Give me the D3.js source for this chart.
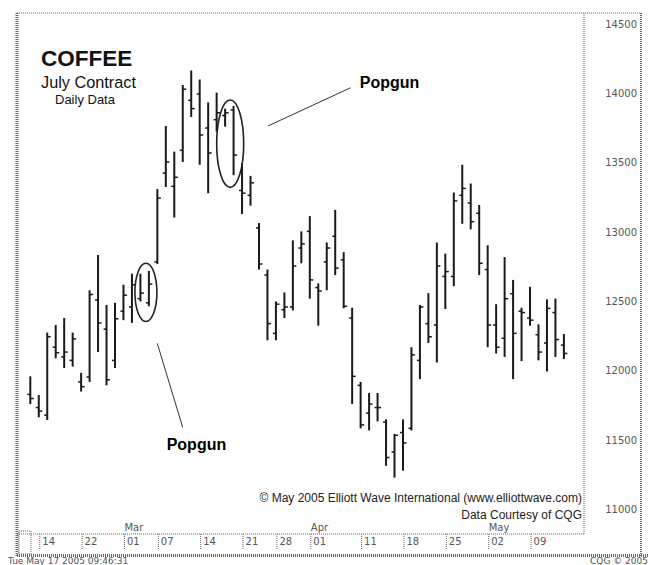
<!DOCTYPE html>
<html lang="en">
<head>
    <meta charset="UTF-8">
    <title>Coffee July Contract</title>
    <script src="https://d3js.org/d3.v7.min.js"></script>
    <style>
        body { margin: 0; background: #fff; }
        .axis text { font-family: "DejaVu Sans", sans-serif; font-size: 10px; fill: #555; }
        .frame { fill: none; stroke: #666; stroke-dasharray: 1,1; }
    </style>
</head>
<body>
<div id="chart"></div>
<script>

    // Trading days (categories)
    var dates = [
        "2005-02-11", "2005-02-14", "2005-02-15", "2005-02-16", "2005-02-17", "2005-02-18",
        "2005-02-22", "2005-02-23", "2005-02-24", "2005-02-25", "2005-02-28",
        "2005-03-01", "2005-03-02", "2005-03-03", "2005-03-04",
        "2005-03-07", "2005-03-08", "2005-03-09", "2005-03-10", "2005-03-11",
        "2005-03-14", "2005-03-15", "2005-03-16", "2005-03-17", "2005-03-18",
        "2005-03-21", "2005-03-22", "2005-03-23", "2005-03-24",
        "2005-03-28", "2005-03-29", "2005-03-30", "2005-03-31",
        "2005-04-01", "2005-04-04", "2005-04-05", "2005-04-06", "2005-04-07", "2005-04-08",
        "2005-04-11", "2005-04-12", "2005-04-13", "2005-04-14", "2005-04-15",
        "2005-04-18", "2005-04-19", "2005-04-20", "2005-04-21", "2005-04-22",
        "2005-04-25", "2005-04-26", "2005-04-27", "2005-04-28", "2005-04-29",
        "2005-05-02", "2005-05-03", "2005-05-04", "2005-05-05", "2005-05-06",
        "2005-05-09", "2005-05-10", "2005-05-11", "2005-05-12", "2005-05-13"
    ];

    // OHLC series
    var opens = [
        11830, 11735, 11680, 12170, 12100, 12075, 11920, 11955, 12510, 12300, 12075,
        12430, 12460, 12520, 12490, 12785, 13425, 13330, 13590, 13950,
        13995, 13750, 13810, 13840, 13880, 13300, 13265, 13030, 12690,
        12270, 12440, 12460, 12885, 13005, 12600, 12785, 12970, 12800, 12380,
        11895, 11695, 11735, 11630, 11415, 11555, 11585, 12075, 12340, 12330,
        12680, 12680, 13265, 13210, 13135, 12730, 12330, 12235, 12555, 12430,
        12380, 12260, 12200, 12420, 12185
    ];
    var highs = [
        11960, 11825, 12275, 12330, 12380, 12275, 11985, 12580, 12835, 12475, 12490,
        12620, 12700, 12700, 12720, 13310, 13765, 13580, 14060, 14165,
        14100, 13935, 14005, 13890, 13910, 13495, 13405, 13065, 12730,
        12500, 12565, 12940, 13005, 13115, 12630, 12925, 13160, 12855, 12455,
        11920, 11840, 11840, 11650, 11545, 11650, 12170, 12475, 12560, 12925,
        12845, 13285, 13485, 13350, 13195, 12905, 12480, 12820, 12655, 12455,
        12605, 12335, 12515, 12520, 12265
    ];
    var lows = [
        11760, 11665, 11645, 12090, 12020, 12030, 11850, 11920, 12135, 11895, 12020,
        12365, 12345, 12500, 12465, 12770, 13325, 13105, 13505, 13830,
        13485, 13280, 13725, 13760, 13410, 13130, 13190, 12730, 12220,
        12220, 12380, 12435, 12775, 12520, 12325, 12580, 12690, 12450, 11760,
        11585, 11570, 11635, 11315, 11230, 11280, 11570, 11940, 12200, 12060,
        12445, 12610, 13060, 13020, 12690, 12170, 12125, 12100, 11940, 12070,
        12325, 12075, 11995, 12100, 12085
    ];
    var closes = [
        11800, 11710, 12245, 12130, 12135, 12230, 11885, 12550, 12345, 11935, 12375,
        12545, 12620, 12560, 12625, 13245, 13505, 13395, 14030, 13890,
        13700, 13570, 13860, 13860, 13555, 13280, 13355, 12770, 12340,
        12480, 12460, 12755, 12915, 12655, 12575, 12885, 12740, 12465, 11960,
        11610, 11760, 11735, 11375, 11535, 11480, 12115, 12460, 12245, 12755,
        12715, 13225, 13315, 13075, 12775, 12330, 12170, 12520, 12270, 12420,
        12365, 12135, 12450, 12225, 12125
    ];

    // Axis labels
    var priceTicks = [11000, 11500, 12000, 12500, 13000, 13500, 14000, 14500];
    var tickDates = ["2005-02-14", "2005-02-22", "2005-03-01", "2005-03-07", "2005-03-14", "2005-03-21",
        "2005-03-28", "2005-04-01", "2005-04-11", "2005-04-18", "2005-04-25", "2005-05-02", "2005-05-09"];
    var tickLabels = ["14", "22", "01", "07", "14", "21", "28", "01", "11", "18", "25", "02", "09"];
    var monthDates = ["2005-03-01", "2005-04-01", "2005-05-02"];
    var monthLabels = ["Mar", "Apr", "May"];

    // Dimensions
    var width = 652;
    var height = 565;
    var plotLeft = 17, plotRight = 584, plotTop = 13, plotBottom = 534;

    var svg = d3.select("#chart")
        .append("svg")
        .attr("width", width)
        .attr("height", height);

    // Scales
    var x = d3.scaleLinear().domain([0, dates.length - 1]).range([30.3, 563.9]);
    var y = d3.scaleLinear().domain([11000, 14500]).range([509.5, 24]);
    var idx = function (d) { return dates.indexOf(d); };

    // Frame
    svg.append("line").attr("class", "frame")
        .attr("x1", plotLeft).attr("x2", 640).attr("y1", plotTop).attr("y2", plotTop);
    svg.append("line").attr("class", "frame")
        .attr("x1", plotRight).attr("x2", plotRight).attr("y1", plotTop).attr("y2", plotBottom);
    svg.append("line").attr("class", "frame")
        .attr("x1", plotLeft).attr("x2", plotRight).attr("y1", plotBottom).attr("y2", plotBottom);
    svg.append("line").attr("class", "frame").style("stroke-width", 3)
        .attr("x1", plotLeft).attr("x2", plotLeft).attr("y1", plotTop).attr("y2", 557);
    svg.append("line").attr("class", "frame").style("stroke-width", 2)
        .attr("x1", 641).attr("x2", 641).attr("y1", plotTop).attr("y2", 556);
    svg.append("line").attr("class", "frame").style("stroke-width", 3)
        .attr("x1", plotLeft).attr("x2", 648).attr("y1", 555.5).attr("y2", 555.5);
    svg.append("rect").attr("class", "frame")
        .attr("x", 19).attr("y", 531).attr("width", 12).attr("height", 23);

    // Right price axis
    var yAxis = svg.append("g")
        .attr("class", "axis")
        .attr("transform", "translate(" + plotRight + ",0)")
        .call(d3.axisRight(y).tickValues(priceTicks).tickSize(0).tickFormat(d3.format("d")));
    yAxis.select(".domain").remove();
    yAxis.selectAll("text").attr("x", 53).attr("text-anchor", "end");

    // Bottom date axis
    var xAxis = svg.append("g")
        .attr("class", "axis")
        .attr("transform", "translate(0," + plotBottom + ")")
        .call(d3.axisBottom(x)
            .tickValues(tickDates.map(idx))
            .tickSize(15)
            .tickFormat(function (d, i) { return tickLabels[i]; }));
    xAxis.select(".domain").remove();
    xAxis.selectAll(".tick line").attr("stroke", "#666").attr("stroke-dasharray", "1,1").attr("x1", 0.5).attr("x2", 0.5);
    xAxis.selectAll(".tick text").attr("x", 3).attr("y", 4).attr("text-anchor", "start");

    svg.append("g")
        .attr("class", "axis")
        .selectAll("text")
        .data(monthDates)
        .enter()
        .append("text")
        .attr("x", function (d) { return x(idx(d)) + 1; })
        .attr("y", 531)
        .text(function (d, i) { return monthLabels[i]; });

    // OHLC bars
    var bars = svg.append("g")
        .selectAll("g")
        .data(dates)
        .enter()
        .append("g")
        .attr("stroke", "#1a1a1a");

    bars.append("line")
        .attr("stroke-width", 2)
        .attr("x1", function (d, i) { return x(i); })
        .attr("x2", function (d, i) { return x(i); })
        .attr("y1", function (d, i) { return y(highs[i]); })
        .attr("y2", function (d, i) { return y(lows[i]); });

    bars.append("line")
        .attr("stroke-width", 1.5)
        .attr("x1", function (d, i) { return x(i) - 3; })
        .attr("x2", function (d, i) { return x(i); })
        .attr("y1", function (d, i) { return y(opens[i]); })
        .attr("y2", function (d, i) { return y(opens[i]); });

    bars.append("line")
        .attr("stroke-width", 1.5)
        .attr("x1", function (d, i) { return x(i); })
        .attr("x2", function (d, i) { return x(i) + 3.5; })
        .attr("y1", function (d, i) { return y(closes[i]); })
        .attr("y2", function (d, i) { return y(closes[i]); });

    // Popgun annotations
    svg.append("ellipse")
        .attr("cx", x(13.65)).attr("cy", y(12565))
        .attr("rx", 11).attr("ry", y(12355) - y(12565))
        .attr("fill", "none").attr("stroke", "#222").attr("stroke-width", 1.6);
    svg.append("ellipse")
        .attr("cx", x(23.6)).attr("cy", y(13637))
        .attr("rx", 13.5).attr("ry", y(13322) - y(13637))
        .attr("fill", "none").attr("stroke", "#222").attr("stroke-width", 1.6);

    svg.append("line")
        .attr("x1", x(28.06)).attr("y1", y(13765)).attr("x2", x(37.8)).attr("y2", y(14040))
        .attr("stroke", "#333").attr("stroke-width", 1);
    svg.append("line")
        .attr("x1", x(14.99)).attr("y1", y(12198)).attr("x2", x(17.99)).attr("y2", y(11592))
        .attr("stroke", "#333").attr("stroke-width", 1);

    svg.append("text")
        .attr("x", x(38.9)).attr("y", y(14040))
        .style("font", "bold 16px 'Liberation Sans', Arial, sans-serif")
        .text("Popgun");
    svg.append("text")
        .attr("x", x(16.1)).attr("y", y(11429))
        .style("font", "bold 16px 'Liberation Sans', Arial, sans-serif")
        .text("Popgun");

    // Title
    svg.append("text").attr("x", 41).attr("y", 66)
        .style("font", "bold 22.5px 'Liberation Sans', Arial, sans-serif").attr("fill", "#111")
        .text("COFFEE");
    svg.append("text").attr("x", 41).attr("y", 87.5)
        .style("font", "16.3px 'Liberation Sans', Arial, sans-serif").attr("fill", "#111")
        .text("July Contract");
    svg.append("text").attr("x", 55).attr("y", 104)
        .style("font", "13px 'Liberation Sans', Arial, sans-serif").attr("fill", "#111")
        .text("Daily Data");

    // Credits
    svg.append("text").attr("x", 582).attr("y", 502).attr("text-anchor", "end")
        .style("font", "12px 'Liberation Sans', Arial, sans-serif").attr("fill", "#222")
        .text("\u00A9 May 2005 Elliott Wave International (www.elliottwave.com)");
    svg.append("text").attr("x", 582).attr("y", 519).attr("text-anchor", "end")
        .style("font", "12px 'Liberation Sans', Arial, sans-serif").attr("fill", "#222")
        .text("Data Courtesy of CQG");

    // Footer
    svg.append("text").attr("x", 8).attr("y", 564)
        .style("font", "9px 'DejaVu Sans', sans-serif").attr("fill", "#555")
        .text("Tue May 17 2005 09:46:31");
    svg.append("text").attr("x", 648).attr("y", 564).attr("text-anchor", "end")
        .style("font", "9px 'DejaVu Sans', sans-serif").attr("fill", "#555")
        .text("CQG \u00A9 2005");

</script>
</body>
</html>
